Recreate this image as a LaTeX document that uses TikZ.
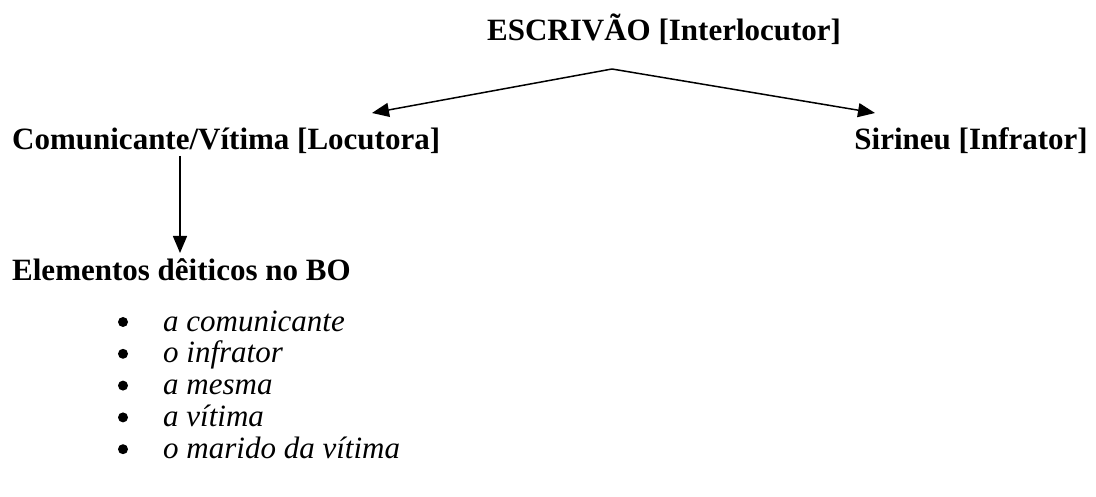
\documentclass[tikz,border=0pt]{standalone}
\usepackage{fontspec}
\setmainfont{Liberation Serif}
\usetikzlibrary{arrows.meta}
\begin{document}
\begin{tikzpicture}[x=1pt,y=-1pt,
  lbl/.style={inner sep=0pt,anchor=base west,font=\fontsize{31}{31}\selectfont\bfseries},
  item/.style={inner sep=0pt,anchor=base west,font=\fontsize{31}{31}\selectfont\itshape},
  bul/.style={circle,fill=black,inner sep=0pt,minimum size=10pt},
  conn/.style={line width=1.5pt,-{Triangle[length=17pt,width=14pt]}}]
\useasboundingbox (0,0) rectangle (1096,497);
\node[lbl] (esc) at (487,41) {ESCRIVÃO [Interlocutor]};
\node[lbl] (com) at (12,150) {Comunicante/Vítima [Locutora]};
\node[lbl,anchor=base east] (sir) at (1088,150) {Sirineu [Infrator]};
\node[lbl] (ele) at (12,281) {Elementos dêiticos no BO};
\coordinate (fork) at (612,69);
\coordinate (ltip) at (372,113);
\coordinate (rtip) at (875,113);
\coordinate (dstart) at (180,156);
\coordinate (dtip) at (180,253);
\draw[conn] (fork) -- (ltip);
\draw[conn] (fork) -- (rtip);
\draw[conn] (dstart) -- (dtip);
\foreach \t [count=\i from 0] in {a comunicante,o infrator,a mesma,a vítima,o marido da vítima}{
  \node[bul] (b\i) at (123,322+31.8*\i) {};
  \node[item] (it\i) at (163,331+31.8*\i) {\t};
}
\end{tikzpicture}
\end{document}
